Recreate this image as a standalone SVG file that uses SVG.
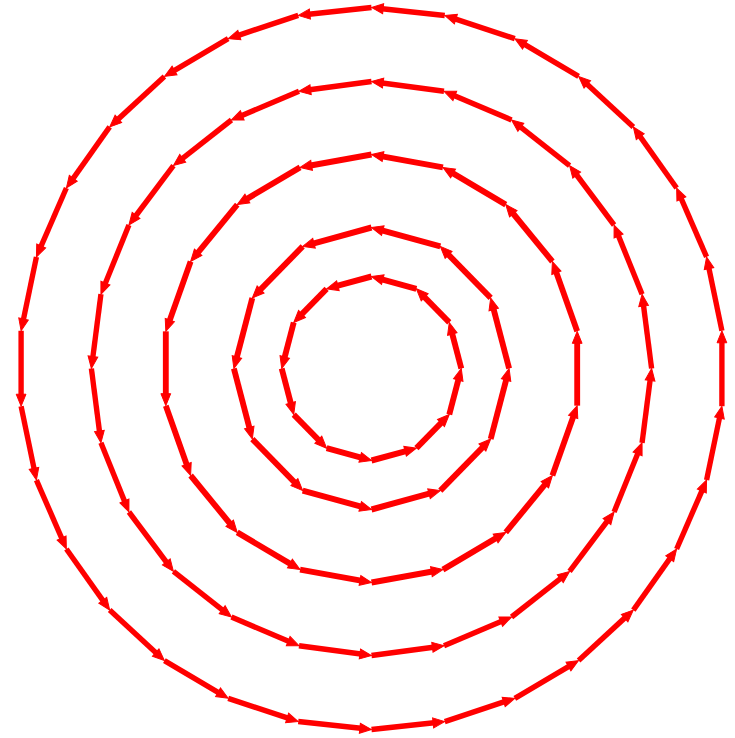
<svg xmlns="http://www.w3.org/2000/svg" width="735" height="738" viewBox="0 0 735 738">
<style>
.sh{stroke:#ff0000;stroke-width:6;fill:none;stroke-linecap:butt}
.so{stroke:#ff0000;stroke-width:5.5;fill:none;stroke-linecap:butt}
.hd{fill:#ff0000;stroke:#ff0000;stroke-width:1;stroke-linejoin:miter}
</style>
<defs>
<g id="e1"><line class="sh" x1="23.81" y1="-88.87" x2="-12.81" y2="-88.87"/><polygon class="hd" points="-23.81,-88.87 -11.81,-93.87 -11.81,-83.87"/></g>
<g id="e2"><line class="sh" x1="36.49" y1="-136.2" x2="-25.49" y2="-136.2"/><polygon class="hd" points="-36.49,-136.2 -24.49,-141.2 -24.49,-131.2"/></g>
<g id="e3"><line class="sh" x1="37.16" y1="-210.75" x2="-26.16" y2="-210.75"/><polygon class="hd" points="-37.16,-210.75 -25.16,-215.75 -25.16,-205.75"/></g>
<g id="e4"><line class="so" x1="37.46" y1="-284.54" x2="-26.46" y2="-284.54"/><polygon class="hd" points="-37.46,-284.54 -25.46,-289.54 -25.46,-279.54"/></g>
<g id="e5"><line class="so" x1="37.73" y1="-359.02" x2="-26.73" y2="-359.02"/><polygon class="hd" points="-37.73,-359.02 -25.73,-364.02 -25.73,-354.02"/></g>
</defs>
<rect width="735" height="738" fill="#ffffff"/>
<g id="connectors" transform="translate(371.5,368.5) scale(0.976,1)">
<g id="ring1">
<use href="#e1" transform="rotate(15)"/><use href="#e1" transform="rotate(45)"/><use href="#e1" transform="rotate(75)"/><use href="#e1" transform="rotate(105)"/><use href="#e1" transform="rotate(135)"/><use href="#e1" transform="rotate(165)"/><use href="#e1" transform="rotate(195)"/><use href="#e1" transform="rotate(225)"/><use href="#e1" transform="rotate(255)"/><use href="#e1" transform="rotate(285)"/><use href="#e1" transform="rotate(315)"/><use href="#e1" transform="rotate(345)"/>
</g>
<g id="ring2">
<use href="#e2" transform="rotate(15)"/><use href="#e2" transform="rotate(45)"/><use href="#e2" transform="rotate(75)"/><use href="#e2" transform="rotate(105)"/><use href="#e2" transform="rotate(135)"/><use href="#e2" transform="rotate(165)"/><use href="#e2" transform="rotate(195)"/><use href="#e2" transform="rotate(225)"/><use href="#e2" transform="rotate(255)"/><use href="#e2" transform="rotate(285)"/><use href="#e2" transform="rotate(315)"/><use href="#e2" transform="rotate(345)"/>
</g>
<g id="ring3">
<use href="#e3" transform="rotate(10)"/><use href="#e3" transform="rotate(30)"/><use href="#e3" transform="rotate(50)"/><use href="#e3" transform="rotate(70)"/><use href="#e3" transform="rotate(90)"/><use href="#e3" transform="rotate(110)"/><use href="#e3" transform="rotate(130)"/><use href="#e3" transform="rotate(150)"/><use href="#e3" transform="rotate(170)"/><use href="#e3" transform="rotate(190)"/><use href="#e3" transform="rotate(210)"/><use href="#e3" transform="rotate(230)"/><use href="#e3" transform="rotate(250)"/><use href="#e3" transform="rotate(270)"/><use href="#e3" transform="rotate(290)"/><use href="#e3" transform="rotate(310)"/><use href="#e3" transform="rotate(330)"/><use href="#e3" transform="rotate(350)"/>
</g>
<g id="ring4">
<use href="#e4" transform="rotate(7.5)"/><use href="#e4" transform="rotate(22.5)"/><use href="#e4" transform="rotate(37.5)"/><use href="#e4" transform="rotate(52.5)"/><use href="#e4" transform="rotate(67.5)"/><use href="#e4" transform="rotate(82.5)"/><use href="#e4" transform="rotate(97.5)"/><use href="#e4" transform="rotate(112.5)"/><use href="#e4" transform="rotate(127.5)"/><use href="#e4" transform="rotate(142.5)"/><use href="#e4" transform="rotate(157.5)"/><use href="#e4" transform="rotate(172.5)"/><use href="#e4" transform="rotate(187.5)"/><use href="#e4" transform="rotate(202.5)"/><use href="#e4" transform="rotate(217.5)"/><use href="#e4" transform="rotate(232.5)"/><use href="#e4" transform="rotate(247.5)"/><use href="#e4" transform="rotate(262.5)"/><use href="#e4" transform="rotate(277.5)"/><use href="#e4" transform="rotate(292.5)"/><use href="#e4" transform="rotate(307.5)"/><use href="#e4" transform="rotate(322.5)"/><use href="#e4" transform="rotate(337.5)"/><use href="#e4" transform="rotate(352.5)"/>
</g>
<g id="ring5">
<use href="#e5" transform="rotate(6)"/><use href="#e5" transform="rotate(18)"/><use href="#e5" transform="rotate(30)"/><use href="#e5" transform="rotate(42)"/><use href="#e5" transform="rotate(54)"/><use href="#e5" transform="rotate(66)"/><use href="#e5" transform="rotate(78)"/><use href="#e5" transform="rotate(90)"/><use href="#e5" transform="rotate(102)"/><use href="#e5" transform="rotate(114)"/><use href="#e5" transform="rotate(126)"/><use href="#e5" transform="rotate(138)"/><use href="#e5" transform="rotate(150)"/><use href="#e5" transform="rotate(162)"/><use href="#e5" transform="rotate(174)"/><use href="#e5" transform="rotate(186)"/><use href="#e5" transform="rotate(198)"/><use href="#e5" transform="rotate(210)"/><use href="#e5" transform="rotate(222)"/><use href="#e5" transform="rotate(234)"/><use href="#e5" transform="rotate(246)"/><use href="#e5" transform="rotate(258)"/><use href="#e5" transform="rotate(270)"/><use href="#e5" transform="rotate(282)"/><use href="#e5" transform="rotate(294)"/><use href="#e5" transform="rotate(306)"/><use href="#e5" transform="rotate(318)"/><use href="#e5" transform="rotate(330)"/><use href="#e5" transform="rotate(342)"/><use href="#e5" transform="rotate(354)"/>
</g>
</g>
</svg>
